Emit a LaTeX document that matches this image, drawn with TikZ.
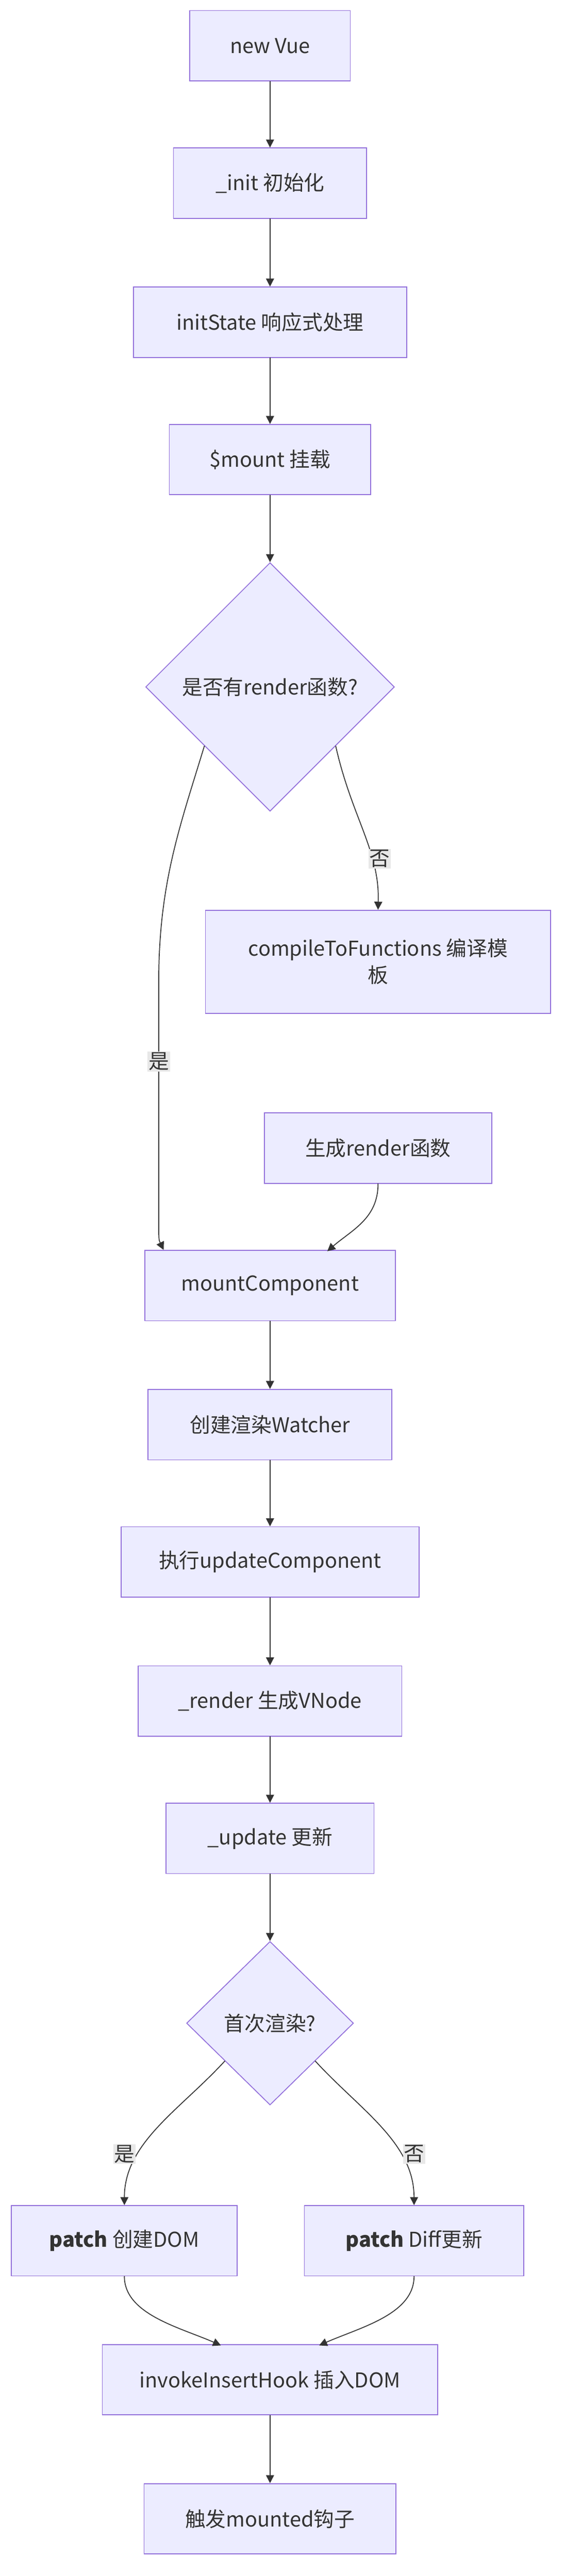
\documentclass[tikz,border=0pt]{standalone}
\usepackage{fontspec}
\setmainfont{Noto Sans CJK SC}
\usetikzlibrary{shapes.geometric,arrows.meta}
\definecolor{boxfill}{HTML}{ECECFF}
\definecolor{boxline}{HTML}{9370DB}
\definecolor{edge}{HTML}{333333}
\definecolor{lblfill}{HTML}{E8E8E8}
\def\u{1.8375pt}
\begin{document}
\begin{tikzpicture}[x=\u, y=-\u, line cap=round, font=\fontsize{23}{30}\selectfont]
  % stijlen
  \tikzset{
    box/.style={rectangle, draw=boxline, fill=boxfill, line width=1pt, minimum height=43*\u, inner sep=0pt, text=edge},
    keuze/.style={diamond, draw=boxline, fill=boxfill, line width=1pt, inner sep=0pt, aspect=1, text=edge},
    pijl/.style={draw=edge, line width=1pt, -{Triangle[length=9pt,width=9pt]}},
    lbl/.style={fill=lblfill, inner sep=1pt, text=edge}
  }
  \useasboundingbox (0,0) rectangle (345,1575);
  % knopen
  \node[box, minimum width=98*\u]  (vue)    at (165,28)   {new Vue};
  \node[box, minimum width=118*\u] (init)   at (165,112)  {\_init 初始化};
  \node[box, minimum width=167*\u] (state)  at (165,197)  {initState 响应式处理};
  \node[box, minimum width=123*\u] (mount)  at (165,281)  {\$mount 挂载};
  \node[keuze, minimum width=152*\u, minimum height=152*\u] (hasrender) at (165,420) {是否有render函数?};
  \node[box, minimum width=211*\u, minimum height=63*\u, align=center] (compile) at (231,588) {compileToFunctions 编译模\\板};
  \node[box, minimum width=139*\u] (genrender) at (231,702) {生成render函数};
  \node[box, minimum width=153*\u] (mountcomp) at (165,786) {mountComponent};
  \node[box, minimum width=149*\u] (watcher)   at (165,871) {创建渲染Watcher};
  \node[box, minimum width=182*\u] (updcomp)   at (165,955) {执行updateComponent};
  \node[box, minimum width=161*\u] (render)    at (165,1040) {\_render 生成VNode};
  \node[box, minimum width=127*\u] (update)    at (165,1124) {\_update 更新};
  \node[keuze, minimum width=102*\u, minimum height=100*\u] (first) at (165,1237) {首次渲染?};
  \node[box, minimum width=138*\u] (create)    at (76,1370)  {\textbf{patch} 创建DOM};
  \node[box, minimum width=134*\u] (diff)      at (253,1370) {\textbf{patch} Diff更新};
  \node[box, minimum width=205*\u] (insert)    at (165,1455) {invokeInsertHook 插入DOM};
  \node[box, minimum width=154*\u] (mounted)   at (165,1540) {触发mounted钩子};
  % verbindingen
  \draw[pijl] (vue) -- (init);
  \draw[pijl] (init) -- (state);
  \draw[pijl] (state) -- (mount);
  \draw[pijl] (mount) -- (hasrender);
  \draw[pijl] (hasrender.south west) ++(-2,-2) coordinate (ja)
    .. controls (110,505) and (97,540) .. (97,600) -- (97,745) .. controls (97,758) .. (mountcomp.north west -| 100,0);
  \draw[pijl] (hasrender.south east) ++(2,-2)
    .. controls (215,500) and (232,520) .. (compile.north);
  \draw[pijl] (genrender.south) .. controls (231,745) and (215,752) .. (200,765);
  \draw[pijl] (mountcomp) -- (watcher);
  \draw[pijl] (watcher) -- (updcomp);
  \draw[pijl] (updcomp) -- (render);
  \draw[pijl] (render) -- (update);
  \draw[pijl] (update) -- (first);
  \draw[pijl] (first.south west) ++(-2,-2) .. controls (110,1290) and (76,1310) .. (create.north);
  \draw[pijl] (first.south east) ++(2,-2) .. controls (220,1290) and (253,1310) .. (diff.north);
  \draw[pijl] (create.south) .. controls (76,1415) and (110,1423) .. (135,1434);
  \draw[pijl] (diff.south) .. controls (253,1415) and (220,1423) .. (195,1434);
  \draw[pijl] (insert) -- (mounted);
  % labels
  \node[lbl] (ja1)  at (97,649)   {是};
  \node[lbl] (nee1) at (232,525)  {否};
  \node[lbl] (ja2)  at (76,1317)  {是};
  \node[lbl] (nee2) at (253,1317) {否};
\end{tikzpicture}
\end{document}
